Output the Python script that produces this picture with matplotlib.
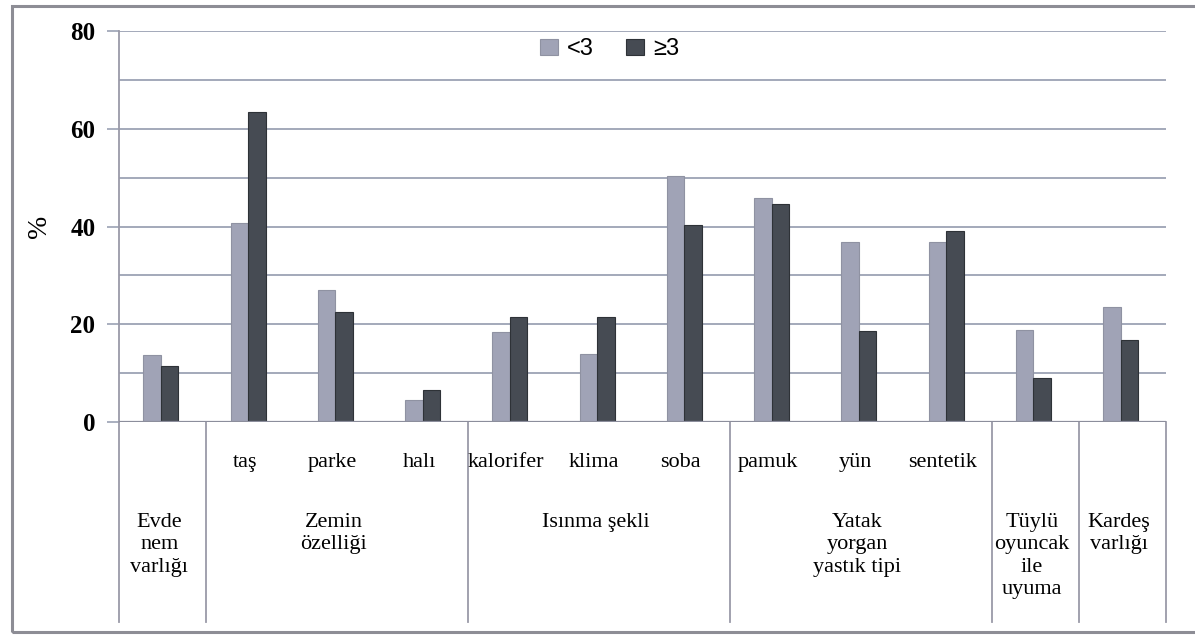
import numpy as np
import matplotlib.pyplot as plt
from matplotlib.patches import Rectangle
from matplotlib.transforms import blended_transform_factory

# yüzde değerleri (yaş grubuna göre)
sub_labels = ['', 'taş', 'parke', 'halı', 'kalorifer', 'klima', 'soba',
              'pamuk', 'yün', 'sentetik', '', '']
lt3 = [13.7, 40.8, 27.0, 4.6, 18.5, 14.0, 50.4, 45.8, 36.9, 36.9, 18.8, 23.6]
ge3 = [11.5, 63.5, 22.6, 6.5, 21.5, 21.5, 40.3, 44.6, 18.7, 39.1, 9.1, 16.8]
group_labels = ['Evde\nnem\nvarlığı', 'Zemin\nözelliği', 'Isınma şekli',
                'Yatak\nyorgan\nyastık tipi', 'Tüylü\noyuncak\nile\nuyuma',
                'Kardeş\nvarlığı']
group_sizes = [1, 3, 3, 3, 1, 1]
series_names = ['<3', '≥3']

c_lt = '#a0a3b6'
c_ge = '#464b53'
grid_c = '#a3a9ba'
serif = 'Liberation Serif'

fig = plt.figure(figsize=(11.95, 6.37), dpi=100)
ax = fig.add_axes([119 / 1195, 1 - 422 / 637, 1047 / 1195, 391 / 637])

x = np.arange(len(lt3))
w = 0.2
ax.bar(x - w / 2 - 0.02, lt3, w, color=c_lt, edgecolor='#8f92a2', linewidth=0.8,
       label=series_names[0], zorder=3)
ax.bar(x + w / 2 - 0.02, ge3, w, color=c_ge, edgecolor='#2e3237', linewidth=0.8,
       label=series_names[1], zorder=3)

ax.set_xlim(-0.5, len(lt3) - 0.5)
ax.set_ylim(0, 80)
ax.set_yticks([0, 20, 40, 60, 80])
ax.set_yticks([10, 30, 50, 70], minor=True)
ax.set_yticklabels(['0', '20', '40', '60', '80'], fontfamily=serif,
                   fontweight='bold', fontsize=18)
ax.tick_params(axis='y', which='major', length=9, width=1.3, color=grid_c, pad=8)
ax.tick_params(axis='y', which='minor', length=0)
ax.set_xticks([])
ax.grid(axis='y', which='both', color=grid_c, linewidth=1.4, zorder=0)
for s in ['top', 'right', 'bottom']:
    ax.spines[s].set_visible(False)
ax.spines['left'].set_color('#9a9aa8')
ax.spines['left'].set_linewidth(1.3)
ax.axhline(0, color='#8c8e9c', linewidth=1.6, zorder=4)

ax.set_ylabel('%', fontfamily=serif, fontsize=20, rotation=90)
ax.yaxis.set_label_coords(-0.064, 0.5)

leg = ax.legend(loc='center', bbox_to_anchor=(0.4685, 0.953), ncol=2,
                frameon=False, prop={'family': 'Liberation Sans', 'size': 17},
                handlelength=0.76, handleheight=0.64, handletextpad=0.38,
                columnspacing=1.36)

# tablo: alt kategoriler ve grup başlıkları
tr = blended_transform_factory(ax.transData, ax.transAxes)
table_bottom = -0.5115
edges = np.concatenate([[0], np.cumsum(group_sizes)]) - 0.5
for e in edges:
    ax.plot([e, e], [0, table_bottom], transform=tr, color='#9a9aa8',
            linewidth=1.3, clip_on=False)
for i, lab in enumerate(sub_labels):
    if lab:
        ax.text(i - 0.06, -0.103, lab, transform=tr, ha='center', va='center',
                fontfamily=serif, fontsize=16)
for k, lab in enumerate(group_labels):
    mid = (edges[k] + edges[k + 1]) / 2
    ax.text(mid - 0.04, -0.232, lab, transform=tr, ha='center', va='top',
            fontfamily=serif, fontsize=16, linespacing=1.25)

# dış çerçeve
fig.patches.append(Rectangle((12 / 1195, 1 - 632 / 637), 1.2, 626 / 637,
                             transform=fig.transFigure, fill=False,
                             edgecolor='#8d8d95', linewidth=2.2))

fig.savefig('out.png', dpi=100)
